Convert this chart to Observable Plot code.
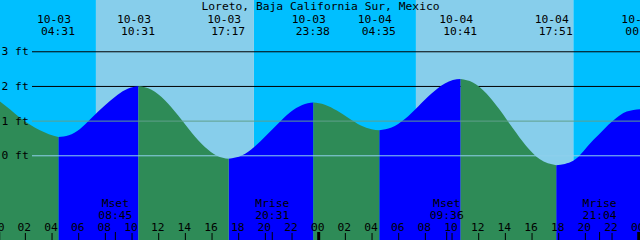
<!DOCTYPE html>
<html><head><meta charset="utf-8">
<script src="https://cdn.jsdelivr.net/npm/d3@7"></script>
<script src="https://cdn.jsdelivr.net/npm/@observablehq/plot@0.6"></script>
<style>body{margin:0;background:#fff}</style>
</head><body><div id="chart"></div>
<script>
const title = "Loreto, Baja California Sur, Mexico";
// hours since 10-03 00:00
const tideHours = [4.517, 10.517, 17.283, 23.633, 28.583, 34.683, 41.85, 48.35];
const tideDates = ["10-03","10-03","10-03","10-03","10-04","10-04","10-04","10-05"];
const tideTimes = ["04:31","10:31","17:17","23:38","04:35","10:41","17:51","00:21"];
const tideFeet  = [0.53, 2.0, -0.1, 1.52, 0.72, 2.2, -0.29, 1.34];
const curveHours = [0.135,0.9,1.635,2.4,3.13,3.8, 5.3,6.135,6.885,7.5,8.4,9.15,9.9,
  11.5,12.5,13.5,14.5,15.5,16.4, 18.3,19.2,20.1,21.0,21.9,22.8, 24.5,25.4,26.3,27.2,28.0,
  29.5,30.5,31.5,32.5,33.5,34.1, 35.6,36.6,37.6,38.6,39.6,40.6, 42.5,43.13,44.63,45.4,46.13,47.14,48.135];
const curveFeet = [1.55,1.32,1.08,0.88,0.72,0.61, 0.58,0.76,1.03,1.26,1.57,1.80,1.95,
  1.89,1.59,1.15,0.66,0.24,-0.01, 0.0,0.24,0.57,0.92,1.24,1.45, 1.46,1.29,1.07,0.86,0.75,
  0.80,1.05,1.41,1.78,2.07,2.17, 2.10,1.79,1.32,0.78,0.27,-0.11, -0.25,-0.16,0.44,0.74,1.0,1.26,1.33];
const sunHours = [7.33, 19.18, 31.33, 43.13]; // rise, set, rise, set
const moonHours = [8.75, 20.517, 33.6, 45.067];
const moonNames = ["Mset","Mrise","Mset","Mrise"];
const moonTimes = ["08:45","20:31","09:36","21:04"];
const hourTicks = [0,2,4,6,8,10,12,14,16,18,20,22,24,26,28,30,32,34,36,38,40,42,44,46,48];
const hourLabels = ["00","02","04","06","08","10","12","14","16","18","20","22",
  "00","02","04","06","08","10","12","14","16","18","20","22","00"];
const levelFeet = [3, 2, 1, 0];
const levelLabels = ["3 ft","2 ft","1 ft","0 ft"];

const H = 3600e3, base = Date.UTC(2024, 9, 3);
const at = h => new Date(base + h * H);
const t0 = 0.135, t1 = 48.135;
const yMin = -2.443, yMax = 4.479;
const FS = "11.3px";

const pts = curveHours.map((h, i) => ({h, v: curveFeet[i]}))
  .concat(tideHours.map((h, i) => ({h, v: tideFeet[i]})).filter(d => d.h > t0 && d.h < t1))
  .sort((a, b) => a.h - b.h);
const bounds = [t0, ...tideHours.filter(h => h > t0 && h < t1), t1];
const water = [];
for (let k = 0; k < bounds.length - 1; k++) {
  const seg = pts.filter(d => d.h >= bounds[k] - 1e-9 && d.h <= bounds[k + 1] + 1e-9);
  const rising = seg[seg.length - 1].v > seg[0].v;
  for (const d of seg) water.push({date: at(d.h), v: d.v, seg: k, rising});
}
const sb = [t0, ...sunHours, t1];
const sky = sb.slice(0, -1).map((s, i) => ({start: at(s), end: at(sb[i + 1]), day: i % 2 === 1}));
const tides = tideHours.map((h, i) => ({date: at(h), d: tideDates[i], t: tideTimes[i]}));
const moons = moonHours.map((h, i) => ({date: at(h), n: moonNames[i], t: moonTimes[i]}));
const hours = hourTicks.map((h, i) => ({date: at(h), h, label: hourLabels[i]}));
const levels = levelFeet.map((v, i) => ({v, label: levelLabels[i]}));

const plot = Plot.plot({
  width: 640, height: 240, margin: 0,
  x: {type: "utc", domain: [at(t0), at(t1)], axis: null},
  y: {domain: [yMin, yMax], axis: null},
  style: {fontFamily: "DejaVu Sans Mono", fontSize: FS, background: "#fff"},
  marks: [
    Plot.rect(sky.filter(d => !d.day), {x1: "start", x2: "end", fill: "#00BFFF"}),
    Plot.rect(sky.filter(d => d.day), {x1: "start", x2: "end", fill: "#87CEEB"}),
    Plot.ruleY(levelFeet.filter(v => v >= 2), {stroke: "#000", insetLeft: 32}),
    Plot.areaY(water.filter(d => d.rising), {x: "date", y1: yMin, y2: "v", z: "seg", fill: "#0000FF", curve: "monotone-x"}),
    Plot.areaY(water.filter(d => !d.rising), {x: "date", y1: yMin, y2: "v", z: "seg", fill: "#2E8B57", curve: "monotone-x"}),
    Plot.ruleY(levelFeet.filter(v => v === 1), {stroke: "#5f9f8c", insetLeft: 32}),
    Plot.ruleY(levelFeet.filter(v => v === 0), {stroke: "#8fd0ec", insetLeft: 32}),
    Plot.text(levels, {y: "v", text: "label", frameAnchor: "left", textAnchor: "start", dx: 1, lineAnchor: "middle", fill: "#000", fontSize: FS}),
    Plot.text([title], {text: d => d, frameAnchor: "top", dy: 9.5, lineAnchor: "bottom", fill: "#000", fontSize: FS}),
    Plot.text(tides, {x: "date", text: "d", frameAnchor: "top", dy: 22, dx: -5, lineAnchor: "bottom", fill: "#000", fontSize: FS}),
    Plot.text(tides, {x: "date", text: "t", frameAnchor: "top", dy: 34, dx: -1, lineAnchor: "bottom", fill: "#000", fontSize: FS}),
    Plot.text(moons, {x: "date", text: "n", frameAnchor: "bottom", dy: -34, lineAnchor: "bottom", fill: "#000", fontSize: FS}),
    Plot.text(moons, {x: "date", text: "t", frameAnchor: "bottom", dy: -22, lineAnchor: "bottom", fill: "#000", fontSize: FS}),
    Plot.text(hours, {x: "date", text: "label", frameAnchor: "bottom", dy: -10, dx: -1, lineAnchor: "bottom", fill: "#000", fontSize: FS}),
    Plot.ruleX(hours.filter(d => d.h % 24 !== 0), {x: "date", stroke: "#000", insetTop: 233}),
    Plot.ruleX(hours.filter(d => d.h % 24 === 0), {x: "date", stroke: "#000", strokeWidth: 3, insetTop: 232}),
    Plot.ruleX(moons, {x: "date", stroke: "#000", insetTop: 232})
  ]
});
document.getElementById("chart").append(plot);
</script>
</body></html>
